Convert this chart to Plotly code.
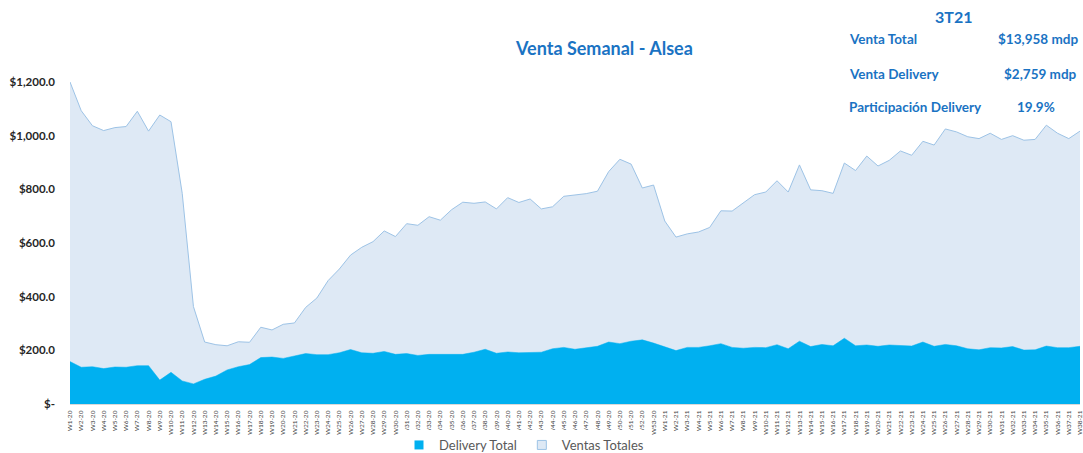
import plotly.graph_objects as go

weeks = [f"W{i}-20" for i in range(1, 54)] + [f"W{i}-21" for i in range(1, 39)]

ventas_totales = [
    1200, 1093, 1037, 1019, 1030, 1034, 1091, 1017, 1077, 1052,
    785, 363, 231, 221, 217, 232, 230, 286, 276, 297,
    302, 360, 395, 460, 503, 555, 584, 605, 645, 624,
    672, 666, 698, 685, 724, 752, 748, 753, 727, 769,
    751, 764, 727, 735, 774, 778, 784, 793, 866, 912,
    894, 805, 816,
    682, 622, 634, 641, 658, 720, 719, 749, 780, 790,
    832, 790, 891, 798, 795, 785, 898, 870, 924, 887,
    908, 943, 927, 979, 965, 1025, 1014, 996, 989, 1009,
    986, 1000, 983, 986, 1039, 1009, 989, 1017,
]

delivery_total = [
    158, 137, 139, 132, 138, 137, 143, 143, 89, 118,
    86, 75, 92, 104, 127, 139, 147, 173, 175, 170,
    179, 188, 184, 184, 191, 203, 191, 189, 196, 185,
    188, 181, 185, 185, 184, 185, 193, 204, 189, 194,
    191, 191, 193, 206, 211, 204, 210, 215, 231, 225,
    234, 239, 227,
    214, 199, 211, 211, 217, 225, 211, 208, 211, 210,
    221, 206, 234, 214, 222, 217, 245, 217, 220, 215,
    220, 217, 216, 231, 215, 222, 217, 206, 202, 210,
    209, 214, 201, 202, 216, 210, 210, 215,
]

y_tick_vals = [0, 200, 400, 600, 800, 1000, 1200]
y_tick_text = ["$-", "$200.0", "$400.0", "$600.0", "$800.0", "$1,000.0", "$1,200.0"]

kpi_labels = ["Venta Total", "Venta Delivery", "Participación Delivery"]
kpi_values = ["$13,958 mdp", "$2,759 mdp", "19.9%"]

BLUE = "#1A73C3"
FONT = "Lato"
C_VENTAS_FILL = "#DEE9F5"
C_VENTAS_LINE = "#9DC3E6"
C_DELIVERY = "#00B0F0"

fig = go.Figure()
fig.add_trace(go.Scatter(
    x=weeks, y=ventas_totales, name="Ventas Totales", mode="lines",
    fill="tozeroy", fillcolor=C_VENTAS_FILL,
    line=dict(color=C_VENTAS_LINE, width=1), showlegend=False, hoverinfo="skip",
))
fig.add_trace(go.Scatter(
    x=weeks, y=delivery_total, name="Delivery Total", mode="lines",
    fill="tozeroy", fillcolor=C_DELIVERY,
    line=dict(color=C_DELIVERY, width=0.5), showlegend=False, hoverinfo="skip",
))
# legend entries with square symbols
fig.add_trace(go.Scatter(
    x=[None], y=[None], name="Delivery Total", mode="markers",
    marker=dict(symbol="square", size=9, color=C_DELIVERY), legendrank=1,
))
fig.add_trace(go.Scatter(
    x=[None], y=[None], name="Ventas Totales", mode="markers",
    marker=dict(symbol="square", size=9, color=C_VENTAS_FILL,
                line=dict(color=C_VENTAS_LINE, width=1)), legendrank=2,
))

annotations = [
    dict(text="<b>Venta Semanal - Alsea</b>", x=604, y=48,
         font=dict(size=18, color=BLUE, family=FONT)),
    dict(text="<b>3T21</b>", x=974, y=17, font=dict(size=16, color=BLUE, family=FONT)),
]
kpi_y = [39, 74, 107]
for lab, yy in zip(kpi_labels, kpi_y):
    annotations.append(dict(text=f"<b>{lab}</b>", x=847, y=yy, xanchor="left",
                            font=dict(size=13.5, color=BLUE, family=FONT)))
annotations.append(dict(text=f"<b>{kpi_values[0]}</b>", x=1080, y=kpi_y[0], xanchor="right",
                        font=dict(size=13.5, color=BLUE, family=FONT)))
annotations.append(dict(text=f"<b>{kpi_values[1]}</b>", x=1079, y=kpi_y[1], xanchor="right",
                        font=dict(size=13.5, color=BLUE, family=FONT)))
annotations.append(dict(text=f"<b>{kpi_values[2]}</b>", x=1036, y=kpi_y[2], xanchor="center",
                        font=dict(size=13.5, color=BLUE, family=FONT)))

# convert pixel positions to paper coords
W, H = 1083, 453
ML, MR, MT, MB = 70, 3, 82, 49
pw, ph = W - ML - MR, H - MT - MB
for a in annotations:
    a["xref"] = "paper"; a["yref"] = "paper"; a["showarrow"] = False
    a["x"] = (a["x"] - ML) / pw
    a["y"] = (H - MB - a["y"]) / ph
    a["yanchor"] = "middle"

fig.update_layout(
    width=W, height=H,
    margin=dict(l=ML, r=MR, t=MT, b=MB, autoexpand=False),
    paper_bgcolor="white", plot_bgcolor="white",
    font=dict(family=FONT, color="#404040"),
    showlegend=True,
    legend=dict(orientation="h", x=(524 - ML) / pw, xanchor="center",
                y=(H - MB - 445) / ph, yanchor="middle",
                font=dict(size=13, color="#595959", family=FONT),
                itemwidth=30, tracegroupgap=0),
    annotations=annotations,
    hovermode=False,
)
fig.update_xaxes(
    type="category", range=[0, len(weeks) - 1], tickangle=-90,
    tickfont=dict(size=6.5, color="#404040", family=FONT),
    showgrid=False, showline=True, linecolor="#D9D9D9", linewidth=1,
    ticks="", ticklabelstandoff=3, automargin=False,
)
fig.update_yaxes(
    range=[0, 1200], tickvals=y_tick_vals, ticktext=y_tick_text,
    tickfont=dict(size=11.5, color="#262626", family=FONT, weight="bold"),
    showgrid=False, zeroline=False, showline=False, ticks="",
    ticklabelstandoff=14, automargin=False,
)

fig.write_html(
    "out.html",
    config={"displayModeBar": False, "staticPlot": True},
    post_script="document.body.style.margin='0';document.body.style.overflow='hidden';",
)
